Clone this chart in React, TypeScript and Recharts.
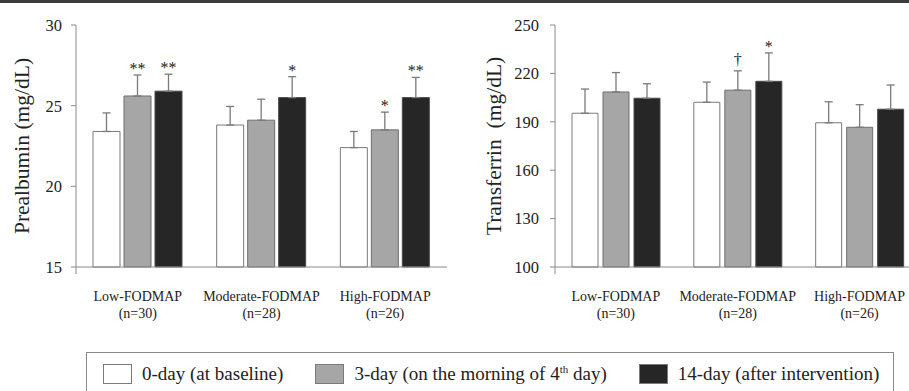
import React from "react";
import { Bar, BarChart, ErrorBar, LabelList, XAxis, YAxis } from "recharts";

// groups and sample sizes
const groups = ["Low-FODMAP", "Moderate-FODMAP", "High-FODMAP"];
const groupSizes = ["(n=30)", "(n=28)", "(n=26)"];

// prealbumin, mean and SD (upper error only)
const prealbDay0 = [23.4, 23.8, 22.4];
const prealbDay0Sd = [1.15, 1.15, 1.0];
const prealbDay3 = [25.6, 24.1, 23.5];
const prealbDay3Sd = [1.3, 1.3, 1.1];
const prealbDay3Sig = ["**", "", "*"];
const prealbDay14 = [25.9, 25.5, 25.5];
const prealbDay14Sd = [1.05, 1.3, 1.25];
const prealbDay14Sig = ["**", "*", "**"];
const prealbTicks = [15, 20, 25, 30];

// transferrin
const transfDay0 = [195.3, 202.1, 189.4];
const transfDay0Sd = [15, 12.5, 13];
const transfDay3 = [208.5, 209.6, 186.6];
const transfDay3Sd = [12, 12, 14];
const transfDay3Sig = ["", "†", ""];
const transfDay14 = [204.6, 215.1, 197.8];
const transfDay14Sd = [9, 17.6, 15];
const transfDay14Sig = ["", "*", ""];
const transfTicks = [100, 130, 160, 190, 220, 250];

const legendItems = [
	{ key: "d0", label: "0-day (at baseline)", fill: "#ffffff" },
	{ key: "d3", label: "3-day (on the morning of ", sup: "th", rest: " day)", num: "4", fill: "#a6a6a6" },
	{ key: "d14", label: "14-day (after intervention)", fill: "#262626" },
];

const FONT = '"Liberation Serif", "Times New Roman", serif';
const AXIS = "#8a8a8a";
const INK = "#222";

const buildRows = (d0, s0, d3, s3, m3, d14, s14, m14) =>
	groups.map((g, i) => ({
		group: g,
		n: groupSizes[i],
		d0: d0[i],
		e0: [0, s0[i]],
		d3: d3[i],
		e3: [0, s3[i]],
		m3: m3[i],
		d14: d14[i],
		e14: [0, s14[i]],
		m14: m14[i],
	}));

const prealbRows = buildRows(
	prealbDay0, prealbDay0Sd,
	prealbDay3, prealbDay3Sd, prealbDay3Sig,
	prealbDay14, prealbDay14Sd, prealbDay14Sig
);
const transfRows = buildRows(
	transfDay0, transfDay0Sd,
	transfDay3, transfDay3Sd, transfDay3Sig,
	transfDay14, transfDay14Sd, transfDay14Sig
);

const GroupTick = (props: any) => {
	const { x, y, payload, index } = props;
	const idx = index ?? groups.indexOf(payload.value);
	return (
		<text x={x} y={y} textAnchor="middle" fontFamily={FONT} fontSize={14} fill={INK}>
			<tspan x={x} dy={33}>{payload.value}</tspan>
			<tspan x={x} dy={17}>{groupSizes[idx]}</tspan>
		</text>
	);
};

const AxisTitle = (props: any) => {
	const { viewBox, text, cx } = props;
	const cy = viewBox.y + viewBox.height / 2;
	return (
		<text
			x={cx}
			y={cy}
			transform={`rotate(-90 ${cx} ${cy})`}
			textAnchor="middle"
			dominantBaseline="central"
			fontFamily={FONT}
			fontSize={21.5}
			fill={INK}
			style={{ whiteSpace: "pre" }}>
			{text}
		</text>
	);
};

// marker sits just above the error cap
const sigLabel = (rows, valueKey, errKey, minVal) => (props: any) => {
	const { x, y, width, height, value, index } = props;
	if (!value) return null;
	const row = rows[index];
	const pxPerUnit = height / (row[valueKey] - minVal);
	const capY = y - row[errKey][1] * pxPerUnit;
	const lift = value === "†" ? 6 : 1;
	return (
		<text
			x={x + width / 2}
			y={capY - lift}
			textAnchor="middle"
			fontFamily={FONT}
			fontSize={16}
			fill={INK}>
			{value}
		</text>
	);
};

const Panel = ({ rows, ticks, title, titleX, width, yWidth, right, tickMargin, barSize, barGap }) => {
	const minVal = ticks[0];
	return (
		<BarChart
			width={width}
			height={340}
			data={rows}
			margin={{ top: 25, right, left: 0, bottom: 13 }}
			barSize={barSize}
			barGap={barGap}>
			{/* plain axis line with short ticks only at both ends */}
			<XAxis
				xAxisId={0}
				type="number"
				domain={[0, groups.length]}
				ticks={[0, groups.length]}
				height={1}
				stroke={AXIS}
				tickSize={7}
				tick={() => <g />}
			/>
			<XAxis
				xAxisId="cat"
				dataKey="group"
				height={59}
				axisLine={false}
				tickLine={false}
				tickSize={0}
				tickMargin={0}
				interval={0}
				tick={<GroupTick />}
			/>
			<YAxis
				width={yWidth}
				domain={[ticks[0], ticks[ticks.length - 1]]}
				ticks={ticks}
				stroke={AXIS}
				tickSize={5}
				tickMargin={tickMargin}
				tick={{ fill: INK, fontSize: 16.5, fontFamily: FONT }}
				label={<AxisTitle text={title} cx={titleX} />}
			/>
			<Bar xAxisId="cat" dataKey="d0" fill="#ffffff" stroke="#7a7a7a" isAnimationActive={false}>
				<ErrorBar dataKey="e0" width={4} stroke="#7a7a7a" strokeWidth={1.3} />
			</Bar>
			<Bar xAxisId="cat" dataKey="d3" fill="#a6a6a6" stroke="#6e6e6e" isAnimationActive={false}>
				<ErrorBar dataKey="e3" width={4} stroke="#7a7a7a" strokeWidth={1.3} />
				<LabelList dataKey="m3" content={sigLabel(rows, "d3", "e3", minVal)} />
			</Bar>
			<Bar xAxisId="cat" dataKey="d14" fill="#262626" stroke="#4a4a4a" isAnimationActive={false}>
				<ErrorBar dataKey="e14" width={4} stroke="#7a7a7a" strokeWidth={1.3} />
				<LabelList dataKey="m14" content={sigLabel(rows, "d14", "e14", minVal)} />
			</Bar>
		</BarChart>
	);
};

const App = () => {
	return (
		<div
			style={{
				position: "absolute",
				left: 0,
				top: 0,
				width: 909,
				height: 391,
				overflow: "hidden",
				background: "#fff",
				fontFamily: FONT,
			}}>
			<div style={{ position: "absolute", left: 0, top: 0, width: 909, height: 3, background: "#3c3c3c" }} />
			<div style={{ position: "absolute", left: 0, top: 0 }}>
				<Panel
					rows={prealbRows}
					ticks={prealbTicks}
					title="Prealbumin (mg/dL)"
					titleX={22}
					width={460}
					yWidth={76}
					right={13}
					tickMargin={9}
					barSize={27}
					barGap={4}
				/>
			</div>
			<div style={{ position: "absolute", left: 450, top: 0 }}>
				<Panel
					rows={transfRows}
					ticks={transfTicks}
					title="Transferrin  (mg/dL)"
					titleX={43.5}
					width={480}
					yWidth={105}
					right={9.5}
					tickMargin={11}
					barSize={26}
					barGap={5}
				/>
			</div>
			<div
				style={{
					position: "absolute",
					left: 86,
					top: 352,
					width: 808,
					height: 50,
					border: `1px solid ${AXIS}`,
					boxSizing: "border-box",
					display: "flex",
					alignItems: "flex-start",
					paddingLeft: 16,
					paddingTop: 10,
					fontSize: 19,
					color: INK,
				}}>
				{legendItems.map((item, i) => (
					<div
						key={item.key}
						style={{ display: "flex", alignItems: "center", marginRight: i < 2 ? 32 : 0 }}>
						<span
							style={{
								display: "inline-block",
								width: 29,
								height: 20,
								background: item.fill,
								border: "1px solid #7a7a7a",
								boxSizing: "border-box",
								marginRight: 10,
							}}
						/>
						<span style={{ whiteSpace: "pre", lineHeight: "22px" }}>
							{item.label}
							{item.num}
							{item.sup && <sup style={{ fontSize: 11, lineHeight: 0 }}>{item.sup}</sup>}
							{item.rest}
						</span>
					</div>
				))}
			</div>
		</div>
	);
};

export default App;
